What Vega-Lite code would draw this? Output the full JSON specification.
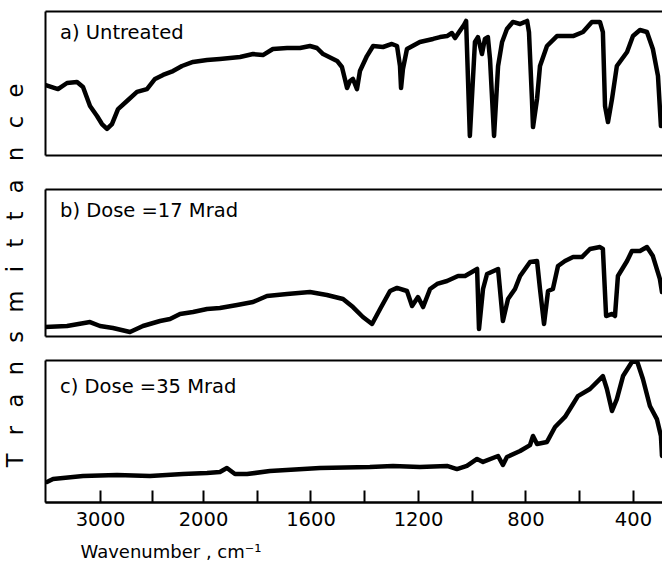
{
 "$schema": "https://vega.github.io/schema/vega-lite/v6.json",
 "padding": {"left": 3, "top": 11, "right": 0, "bottom": 0},
 "background": "white",
 "config": {"font": "DejaVu Sans", "view": {"stroke": null}},
 "datasets": {
  "a": [
   {"wn":3534,"t":48.6},{"wn":3408,"t":45.8},{"wn":3320,"t":50.0},{"wn":3223,"t":50.7},{"wn":3165,"t":47.2},{"wn":3097,"t":34.0},{"wn":3029,"t":27.1},{"wn":2981,"t":21.5},{"wn":2932,"t":18.1},{"wn":2884,"t":21.5},{"wn":2825,"t":31.9},{"wn":2738,"t":37.5},{"wn":2641,"t":43.8},{"wn":2544,"t":45.8},{"wn":2466,"t":52.8},{"wn":2388,"t":55.6},{"wn":2291,"t":58.3},{"wn":2204,"t":61.8},{"wn":2097,"t":64.6},{"wn":1985,"t":66.0},{"wn":1937,"t":66.7},{"wn":1862,"t":68.1},{"wn":1814,"t":70.1},{"wn":1777,"t":69.4},{"wn":1740,"t":73.6},{"wn":1687,"t":74.3},{"wn":1639,"t":74.3},{"wn":1602,"t":75.7},{"wn":1576,"t":74.3},{"wn":1553,"t":70.1},{"wn":1501,"t":65.3},{"wn":1483,"t":61.1},{"wn":1472,"t":52.8},{"wn":1464,"t":46.5},{"wn":1453,"t":51.4},{"wn":1442,"t":52.8},{"wn":1427,"t":45.8},{"wn":1416,"t":58.3},{"wn":1390,"t":68.7},{"wn":1367,"t":75.7},{"wn":1330,"t":75.0},{"wn":1297,"t":77.1},{"wn":1278,"t":75.7},{"wn":1267,"t":61.8},{"wn":1263,"t":46.5},{"wn":1256,"t":59.7},{"wn":1241,"t":73.6},{"wn":1193,"t":78.5},{"wn":1144,"t":80.6},{"wn":1118,"t":81.9},{"wn":1092,"t":82.6},{"wn":1074,"t":84.7},{"wn":1062,"t":81.2},{"wn":1047,"t":85.4},{"wn":1029,"t":90.3},{"wn":1021,"t":93.1},{"wn":1007,"t":13.2},{"wn":988,"t":78.5},{"wn":977,"t":81.9},{"wn":962,"t":70.1},{"wn":951,"t":80.6},{"wn":940,"t":81.9},{"wn":932,"t":66.7},{"wn":917,"t":13.2},{"wn":902,"t":61.8},{"wn":887,"t":78.5},{"wn":869,"t":87.5},{"wn":847,"t":92.4},{"wn":820,"t":91.0},{"wn":802,"t":92.4},{"wn":794,"t":93.1},{"wn":787,"t":85.4},{"wn":776,"t":38.9},{"wn":772,"t":19.4},{"wn":757,"t":38.9},{"wn":746,"t":61.8},{"wn":720,"t":75.7},{"wn":683,"t":82.6},{"wn":623,"t":82.6},{"wn":586,"t":85.4},{"wn":553,"t":92.4},{"wn":523,"t":92.4},{"wn":512,"t":85.4},{"wn":504,"t":34.0},{"wn":493,"t":22.9},{"wn":478,"t":38.9},{"wn":460,"t":61.8},{"wn":422,"t":71.5},{"wn":400,"t":82.6},{"wn":374,"t":86.8},{"wn":348,"t":85.4},{"wn":326,"t":73.6},{"wn":307,"t":54.9},{"wn":296,"t":20.1}
  ],
  "b": [
   {"wn":3534,"t":6.1},{"wn":3320,"t":6.8},{"wn":3097,"t":9.5},{"wn":3000,"t":6.8},{"wn":2874,"t":5.4},{"wn":2709,"t":2.7},{"wn":2583,"t":6.8},{"wn":2417,"t":10.2},{"wn":2320,"t":11.6},{"wn":2223,"t":15.0},{"wn":2097,"t":16.3},{"wn":1985,"t":18.4},{"wn":1937,"t":19.0},{"wn":1873,"t":21.1},{"wn":1814,"t":23.1},{"wn":1762,"t":27.2},{"wn":1687,"t":28.6},{"wn":1602,"t":29.9},{"wn":1539,"t":27.9},{"wn":1479,"t":25.2},{"wn":1442,"t":19.7},{"wn":1405,"t":12.9},{"wn":1371,"t":8.2},{"wn":1341,"t":18.4},{"wn":1304,"t":30.6},{"wn":1278,"t":32.7},{"wn":1241,"t":30.6},{"wn":1222,"t":20.4},{"wn":1200,"t":26.5},{"wn":1181,"t":19.7},{"wn":1155,"t":32.0},{"wn":1129,"t":35.4},{"wn":1092,"t":37.4},{"wn":1051,"t":40.8},{"wn":1025,"t":40.8},{"wn":980,"t":45.6},{"wn":973,"t":4.8},{"wn":958,"t":32.0},{"wn":943,"t":42.2},{"wn":902,"t":45.6},{"wn":884,"t":10.2},{"wn":865,"t":25.2},{"wn":839,"t":32.0},{"wn":820,"t":40.8},{"wn":783,"t":50.3},{"wn":757,"t":51.0},{"wn":746,"t":32.0},{"wn":731,"t":8.2},{"wn":716,"t":30.6},{"wn":698,"t":32.0},{"wn":679,"t":47.6},{"wn":653,"t":51.0},{"wn":623,"t":53.7},{"wn":590,"t":53.7},{"wn":560,"t":59.2},{"wn":523,"t":60.5},{"wn":512,"t":59.2},{"wn":500,"t":13.6},{"wn":478,"t":15.0},{"wn":467,"t":13.6},{"wn":456,"t":40.8},{"wn":422,"t":51.0},{"wn":404,"t":57.8},{"wn":374,"t":57.8},{"wn":348,"t":60.5},{"wn":326,"t":54.4},{"wn":300,"t":38.8},{"wn":292,"t":29.9}
  ],
  "c": [
   {"wn":3515,"t":14.1},{"wn":3456,"t":16.2},{"wn":3165,"t":18.3},{"wn":2835,"t":19.0},{"wn":2515,"t":18.3},{"wn":2194,"t":19.7},{"wn":1985,"t":20.4},{"wn":1937,"t":21.1},{"wn":1911,"t":23.9},{"wn":1881,"t":19.7},{"wn":1836,"t":19.7},{"wn":1751,"t":21.8},{"wn":1565,"t":23.9},{"wn":1379,"t":24.6},{"wn":1293,"t":25.4},{"wn":1193,"t":24.6},{"wn":1092,"t":25.4},{"wn":1055,"t":23.2},{"wn":1018,"t":25.4},{"wn":980,"t":30.3},{"wn":958,"t":28.2},{"wn":902,"t":32.4},{"wn":884,"t":26.1},{"wn":869,"t":31.7},{"wn":820,"t":35.9},{"wn":783,"t":40.1},{"wn":772,"t":46.5},{"wn":757,"t":40.8},{"wn":720,"t":42.3},{"wn":690,"t":52.8},{"wn":653,"t":59.9},{"wn":623,"t":69.0},{"wn":605,"t":74.6},{"wn":560,"t":79.6},{"wn":512,"t":88.7},{"wn":497,"t":79.6},{"wn":478,"t":64.1},{"wn":460,"t":72.5},{"wn":437,"t":88.7},{"wn":404,"t":98.6},{"wn":385,"t":99.3},{"wn":363,"t":86.6},{"wn":337,"t":67.6},{"wn":311,"t":58.4},{"wn":296,"t":46.5},{"wn":292,"t":32.4}
  ]
 },
 "bounds": "flush",
 "spacing": 34,
 "vconcat": [
  {
   "width": 617, "height": 144,
   "data": {"name": "a"},
   "title": {"text": "a) Untreated", "anchor": "start", "frame": "group", "dx": 15, "dy": 36, "fontSize": 19.5, "fontWeight": "normal", "color": "black"},
   "mark": {"type": "line", "color": "black", "strokeWidth": 4.5, "clip": true, "strokeJoin": "round", "strokeCap": "round"},
   "encoding": {
    "x": {"field": "wn", "type": "quantitative", "scale": {"domain": [3534, 2000, 292], "range": [0, 158, 617], "nice": false, "zero": false}, "axis": null},
    "y": {"field": "t", "type": "quantitative", "scale": {"domain": [0, 100], "nice": false, "zero": false},
     "axis": {"title": "T\u2002\u00a0r\u2002\u00a0a\u2002\u00a0n\u2002\u00a0s\u2002\u00a0m\u2002\u00a0i\u2002\u00a0t\u2002\u00a0t\u2002\u00a0a\u2002\u00a0n\u2002\u00a0c\u2002\u00a0e", "titleX": -30, "titleY": 264, "titleAngle": 270, "titleAlign": "center", "titleBaseline": "middle", "titleFontSize": 22.5, "titleFontWeight": "normal", "titleColor": "black",
      "domain": true, "domainColor": "black", "domainWidth": 2, "ticks": false, "labels": false, "grid": true, "values": [0, 100], "gridColor": "black", "gridWidth": 2, "gridOpacity": 1}}
   }
  },
  {
   "bounds": "flush",
   "spacing": 24,
   "vconcat": [
    {
     "width": 617, "height": 147,
     "data": {"name": "b"},
     "title": {"text": "b) Dose =17 Mrad", "anchor": "start", "frame": "group", "dx": 15, "dy": 36, "fontSize": 19.5, "fontWeight": "normal", "color": "black"},
     "mark": {"type": "line", "color": "black", "strokeWidth": 4.5, "clip": true, "strokeJoin": "round", "strokeCap": "round"},
     "encoding": {
      "x": {"field": "wn", "type": "quantitative", "scale": {"domain": [3534, 2000, 292], "range": [0, 158, 617], "nice": false, "zero": false}, "axis": null},
      "y": {"field": "t", "type": "quantitative", "scale": {"domain": [0, 100], "nice": false, "zero": false},
       "axis": {"title": null, "domain": true, "domainColor": "black", "domainWidth": 2, "ticks": false, "labels": false, "grid": true, "values": [0, 100], "gridColor": "black", "gridWidth": 2, "gridOpacity": 1}}
     }
    },
    {
     "width": 617, "height": 142,
     "data": {"name": "c"},
     "title": {"text": "c) Dose =35 Mrad", "anchor": "start", "frame": "group", "dx": 15, "dy": 41, "fontSize": 19.5, "fontWeight": "normal", "color": "black"},
     "mark": {"type": "line", "color": "black", "strokeWidth": 4.5, "clip": true, "strokeJoin": "round", "strokeCap": "round"},
     "encoding": {
      "x": {"field": "wn", "type": "quantitative", "scale": {"domain": [3534, 2000, 292], "range": [0, 158, 617], "nice": false, "zero": false},
       "axis": {"values": [3000, 2500, 2000, 1800, 1600, 1400, 1200, 1000, 800, 600, 400], "format": "d", "labelExpr": "indexof([3000,2000,1600,1200,800,400], datum.value) >= 0 ? datum.label : ''", "labelOverlap": false, "labelFlush": false, "tickSize": -12, "tickWidth": 2, "tickColor": "black", "domainColor": "black", "domainWidth": 2, "labelPadding": 20, "labelFontSize": 19.5, "labelColor": "black", "grid": false,
        "title": "Wavenumber , cm\u207b\u00b9", "titleFontSize": 18, "titleFontWeight": "normal", "titleColor": "black", "titleAnchor": "start", "titleX": 35, "titleY": 50, "titleAlign": "left", "titleBaseline": "middle"}},
      "y": {"field": "t", "type": "quantitative", "scale": {"domain": [0, 100], "nice": false, "zero": false},
       "axis": {"title": null, "domain": true, "domainColor": "black", "domainWidth": 2, "ticks": false, "labels": false, "grid": true, "values": [0, 100], "gridColor": "black", "gridWidth": 2, "gridOpacity": 1}}
     }
    }
   ]
  }
 ]
}
